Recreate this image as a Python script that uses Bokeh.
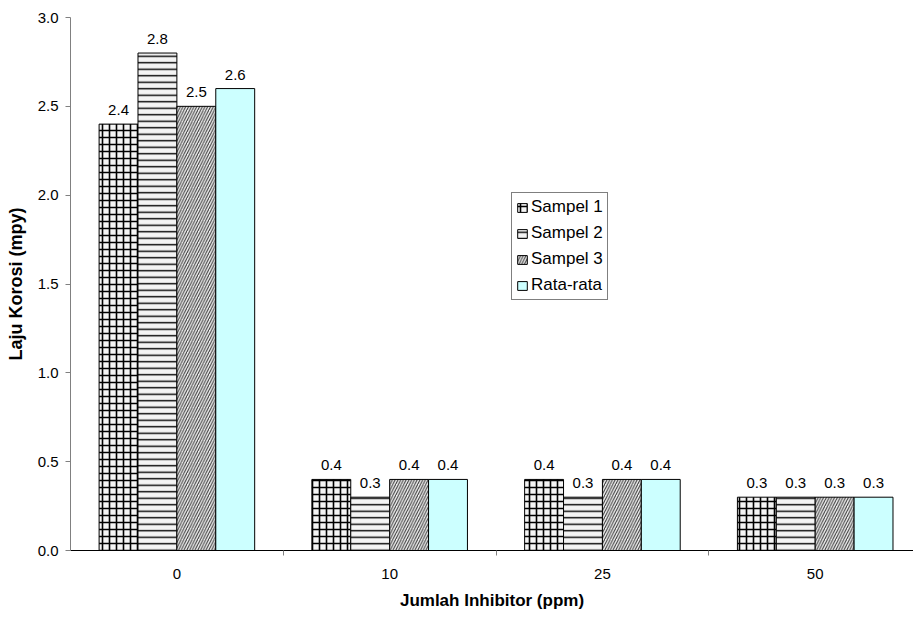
from bokeh.plotting import figure
from bokeh.models import (Range1d, FixedTicker, NumeralTickFormatter, Legend,
                          LegendItem, ColumnDataSource)
from bokeh.core.properties import value
from bokeh.embed import file_html
from bokeh.resources import INLINE

# Corrosion rate (mpy) per inhibitor dose (ppm)
categories = ["0", "10", "25", "50"]
sampel_1 = [2.4, 0.4, 0.4, 0.3]
sampel_2 = [2.8, 0.3, 0.3, 0.3]
sampel_3 = [2.5, 0.4, 0.4, 0.3]
rata_rata = [2.6, 0.4, 0.4, 0.3]
series_names = ["Sampel 1", "Sampel 2", "Sampel 3", "Rata-rata"]
y_ticks = [0.0, 0.5, 1.0, 1.5, 2.0, 2.5, 3.0]

FONT = "Liberation Sans"

series = [sampel_1, sampel_2, sampel_3, rata_rata]
styles = [
    dict(fill_color="#f4f4f4", hatch_pattern="+", hatch_scale=7.0,
         hatch_weight=1.6, hatch_color="black"),
    dict(fill_color="#f4f4f4", hatch_pattern="-", hatch_scale=6.5,
         hatch_weight=1.4, hatch_color="black"),
    dict(fill_color="#eeeeee", hatch_pattern="/", hatch_scale=5.5,
         hatch_weight=1.0, hatch_color="#333333"),
    dict(fill_color="#ccffff"),
]

p = figure(width=913, height=617, output_backend="svg", toolbar_location=None,
           x_range=Range1d(0, 3.962), y_range=Range1d(0, 3.0),
           min_border_left=70, min_border_right=0, min_border_top=17,
           min_border_bottom=67)
p.outline_line_color = None
p.xgrid.grid_line_color = None
p.ygrid.grid_line_color = None
p.background_fill_color = "white"
p.border_fill_color = "white"

# four bars per inhibitor dose, value printed above each bar
bar_w = 0.1828
legend_items = []
for j, (name, vals, st) in enumerate(zip(series_names, series, styles)):
    xs = [i + 0.5 + (j - 1.5) * bar_w for i in range(len(categories))]
    src = ColumnDataSource(dict(x=xs, top=vals,
                                lab=["%.1f" % v for v in vals]))
    r = p.vbar(x="x", top="top", bottom=0, width=bar_w, source=src,
               line_color="black", line_width=1, **st)
    p.text(x="x", y="top", text="lab", source=src, text_align="center",
           text_baseline="alphabetic", y_offset=-14,
           text_font=value(FONT), text_font_size="15px", text_color="black")
    legend_items.append(LegendItem(label=name, renderers=[r]))

# y axis
ya = p.yaxis[0]
ya.ticker = FixedTicker(ticks=y_ticks)
ya.formatter = NumeralTickFormatter(format="0.0")
ya.axis_line_color = "#808080"
ya.major_tick_line_color = "#808080"
ya.major_tick_out = 5
ya.major_tick_in = 0
ya.minor_tick_line_color = None
ya.major_label_standoff = 7
ya.major_label_text_font = FONT
ya.major_label_text_font_size = "15px"
ya.major_label_text_color = "black"
ya.axis_label = "Laju Korosi (mpy)"
ya.axis_label_text_font = FONT
ya.axis_label_text_font_size = "18px"
ya.axis_label_text_font_style = "bold"
ya.axis_label_text_color = "black"
ya.axis_label_standoff = 9

# x axis: labels at group centres, tick marks at group boundaries
xa = p.xaxis[0]
centres = [i + 0.5 for i in range(len(categories))]
xa.ticker = FixedTicker(ticks=centres,
                        minor_ticks=[i for i in range(1, len(categories))])
xa.major_label_overrides = {c: lab for c, lab in zip(centres, categories)}
xa.axis_line_color = "black"
xa.major_tick_line_color = None
xa.major_tick_out = 0
xa.major_tick_in = 0
xa.minor_tick_line_color = "#808080"
xa.minor_tick_out = 5
xa.minor_tick_in = 0
xa.major_label_standoff = 13
xa.major_label_text_font = FONT
xa.major_label_text_font_size = "15px"
xa.major_label_text_color = "black"
xa.axis_label = "Jumlah Inhibitor (ppm)"
xa.axis_label_text_font = FONT
xa.axis_label_text_font_size = "17px"
xa.axis_label_text_font_style = "bold"
xa.axis_label_text_color = "black"
xa.axis_label_standoff = 9

legend = Legend(items=legend_items, location=(441, 250),
                label_text_font=FONT, label_text_font_size="17px",
                label_text_color="black", label_height=20, label_standoff=3,
                glyph_width=12, glyph_height=11, spacing=6, padding=4,
                margin=0, border_line_color="black", border_line_width=1,
                background_fill_color="white", background_fill_alpha=1.0)
p.add_layout(legend, "center")

open("out.html", "w").write(file_html(p, INLINE))
